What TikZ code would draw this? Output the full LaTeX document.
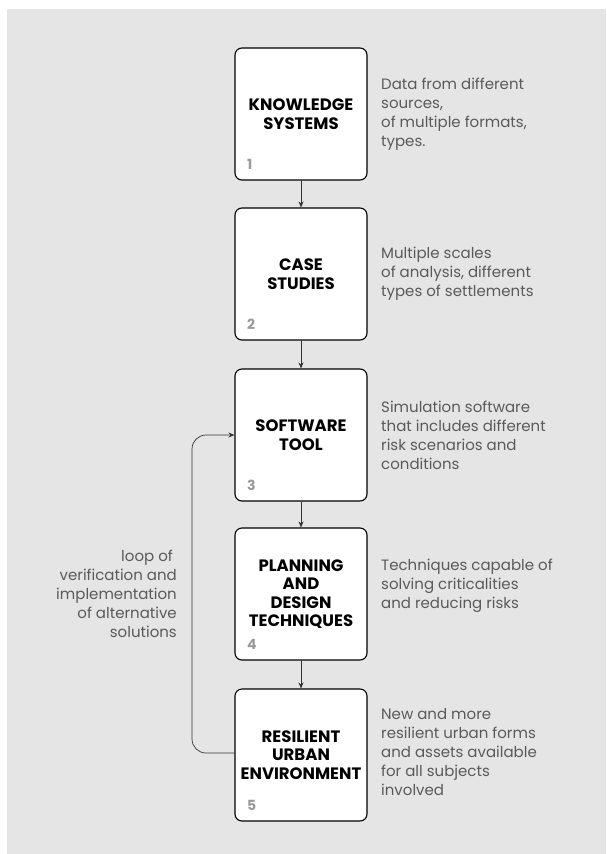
\documentclass[tikz,border=0pt]{standalone}
\usepackage{fontspec}
\setmainfont{Poppins}
\usetikzlibrary{arrows.meta}
\definecolor{bg}{HTML}{E5E5E5}
\definecolor{desc}{HTML}{5A5A5A}
\definecolor{num}{HTML}{9A9A9A}
\definecolor{ln}{HTML}{333333}
\tikzset{
  stepbox/.style={draw=black, fill=white, line width=1.1pt, rounded corners=7pt,
    minimum width=132pt, minimum height=132pt, align=center, inner sep=0pt,
    font=\fontsize{16.5}{18.5}\selectfont\bfseries},
  desctext/.style={anchor=west, align=left, text=desc, inner sep=0pt,
    font=\fontsize{15}{19}\selectfont},
  numtext/.style={anchor=base west, text=num, inner sep=0pt,
    font=\fontsize{14}{15}\selectfont\bfseries},
  arr/.style={draw=ln, line width=0.7pt, -{Stealth[length=6pt,width=5pt]}},
}
\begin{document}
\begin{tikzpicture}[x=1pt,y=-1pt]
\useasboundingbox (0,0) rectangle (606,854);
\fill[bg] (7,9) rectangle (606,854);
% boxes
\node[stepbox] (b1) at (301,114) {KNOWLEDGE\\SYSTEMS};
\node[stepbox] (b2) at (301,274) {CASE\\STUDIES};
\node[stepbox] (b3) at (301,435) {SOFTWARE\\TOOL};
\node[stepbox] (b4) at (301,594) {PLANNING\\AND\\DESIGN\\TECHNIQUES};
\node[stepbox] (b5) at (301,755) {RESILIENT\\URBAN\\ENVIRONMENT};
% numbers
\node[numtext] (n1) at (247,169) {1};
\node[numtext] (n2) at (247,329) {2};
\node[numtext] (n3) at (247,490) {3};
\node[numtext] (n4) at (247,649) {4};
\node[numtext] (n5) at (247,810) {5};
% descriptions
\node[desctext] (d1) at (381,114) {Data from different\\sources,\\of multiple formats,\\types.};
\node[desctext] (d2) at (381,274) {Multiple scales\\of analysis, different\\types of settlements};
\node[desctext] (d3) at (381,435) {Simulation software\\that includes different\\risk scenarios and\\conditions};
\node[desctext] (d4) at (381,586) {Techniques capable of\\solving criticalities\\and reducing risks};
\node[desctext] (d5) at (381,752) {New and more\\resilient urban forms\\and assets available\\for all subjects\\involved};
% loop label
\node[desctext, anchor=east, align=right] (lp) at (177,594) {loop of\hspace*{4pt}\\verification and\\implementation\hspace*{4pt}\\of alternative\hspace*{4pt}\\solutions};
% connectors
\draw[arr] (b1) -- (b2);
\draw[arr] (b2) -- (b3);
\draw[arr] (b3) -- (b4);
\draw[arr] (b4) -- (b5);
\coordinate (lc) at (192,594);
\draw[arr, rounded corners=14pt] ([yshift=2pt]b5.west) -| (lc) |- (b3.west);
\end{tikzpicture}
\end{document}
